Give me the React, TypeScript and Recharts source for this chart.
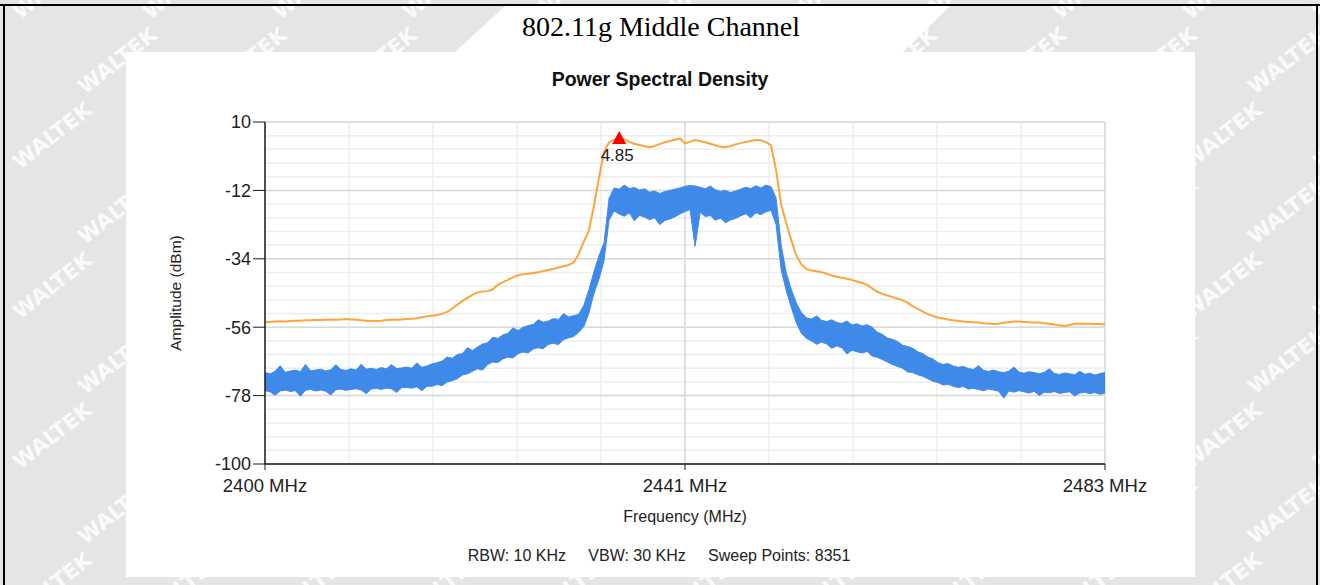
import React from "react";
import {
  ComposedChart,
  Area,
  Line,
  XAxis,
  YAxis,
  CartesianGrid,
  ReferenceDot,
} from "recharts";

// sweep grid of the analyser trace (MHz)
const FREQ_START = 2400;
const FREQ_STEP = 0.5;

// blue trace (noisy PSD) drawn as its upper / lower envelope, dBm
const blueHigh = [
  -70.6, -71.0, -70.2, -68.4, -70.5, -70.1, -69.8, -70.3, -68.0, -70.0,
  -69.8, -69.5, -70.1, -69.7, -68.1, -69.6, -69.9, -69.4, -69.8, -67.9,
  -69.5, -69.2, -69.6, -69.0, -69.4, -68.0, -69.3, -69.1, -68.8, -69.2,
  -67.5, -68.9, -68.5, -67.8, -67.4, -66.9, -65.6, -66.0, -64.8, -64.5,
  -62.6, -63.5, -62.4, -61.4, -61.0, -59.2, -59.6, -58.5, -58.0, -56.2,
  -57.1, -56.0, -55.5, -55.1, -53.6, -54.4, -54.0, -53.2, -53.5, -51.6,
  -52.7, -52.3, -51.8, -49.0, -44.0, -38.2, -33.0, -28.8, -14.5, -11.2,
  -11.6, -10.3, -11.4, -11.1, -11.9, -11.5, -12.6, -12.2, -13.0, -12.4,
  -12.0, -11.6, -11.2, -10.7, -10.4, -10.6, -11.0, -11.5, -10.6, -11.8,
  -12.3, -12.0, -12.7, -12.2, -11.6, -11.0, -11.4, -10.5, -11.2, -10.3,
  -10.8, -14.5, -29.5, -38.5, -43.8, -48.2, -51.3, -53.0, -53.4, -52.4,
  -53.8, -54.2, -53.6, -54.5, -54.8, -54.0, -55.3, -54.9, -55.6, -55.2,
  -56.0, -57.6, -58.3, -59.5, -59.9, -60.6, -61.8, -62.2, -62.8, -63.9,
  -64.5, -65.6, -66.2, -67.4, -68.0, -67.7, -68.5, -68.9, -68.6, -69.3,
  -69.6, -68.4, -69.9, -70.2, -69.8, -70.3, -70.6, -70.1, -68.8, -70.4,
  -70.8, -70.3, -70.6, -71.0, -70.5, -69.4, -70.9, -71.2, -70.7, -71.0,
  -71.3, -70.2, -71.1, -70.8, -71.4, -70.9, -70.6,
];

const blueLow = [
  -76.4, -76.8, -77.9, -76.5, -76.2, -76.7, -76.4, -78.2, -76.3, -76.0,
  -76.5, -76.2, -76.6, -77.8, -76.1, -75.9, -76.3, -76.0, -75.8, -76.2,
  -77.4, -75.9, -75.7, -76.0, -75.6, -75.8, -77.0, -75.5, -75.4, -75.6,
  -75.2, -76.4, -75.0, -75.0, -74.4, -74.8, -73.6, -73.2, -72.6, -71.4,
  -71.0, -70.2, -69.4, -69.8, -68.0, -67.2, -67.4, -66.2, -65.6, -65.9,
  -64.5, -64.0, -64.3, -63.0, -62.6, -62.9, -61.5, -61.2, -61.6, -60.0,
  -59.4, -59.0, -57.6, -55.8, -51.5, -45.2, -40.5, -34.6, -21.5, -18.6,
  -19.6, -20.3, -19.2, -21.8, -20.0, -20.6, -21.4, -20.8, -23.0, -21.7,
  -21.2, -20.5, -19.6, -18.8, -18.2, -30.0, -19.0, -20.4, -20.1, -21.6,
  -20.9, -22.4, -21.5, -21.0, -20.2, -19.5, -20.8, -19.2, -19.8, -18.9,
  -18.4, -23.0, -37.5, -44.2, -49.6, -54.6, -58.0, -59.6, -60.4, -61.5,
  -60.8, -61.4, -62.8, -62.0, -62.6, -64.6, -63.4, -63.9, -64.3, -63.8,
  -65.3, -65.7, -66.4, -67.2, -68.0, -68.6, -69.2, -70.4, -70.6, -71.3,
  -71.8, -72.6, -73.4, -73.8, -74.6, -74.4, -75.0, -75.4, -75.1, -75.9,
  -75.7, -76.0, -76.4, -75.9, -76.2, -76.6, -78.8, -76.5, -76.9, -76.4,
  -76.8, -77.2, -76.6, -78.0, -76.9, -77.1, -76.7, -77.3, -77.0, -76.8,
  -78.1, -77.2, -76.9, -77.4, -77.0, -77.6, -77.2,
];

// orange trace (max hold), dBm
const orangeTrace = [
  -54.4, -54.3, -54.2, -54.1, -54.2, -54.0, -53.9, -53.9, -53.8, -53.8,
  -53.7, -53.7, -53.6, -53.5, -53.6, -53.5, -53.4, -53.5, -53.6, -53.8,
  -53.9, -54.0, -54.0, -53.9, -53.7, -53.6, -53.6, -53.5, -53.4, -53.3,
  -53.1, -52.8, -52.5, -52.3, -52.1, -51.7, -51.1, -50.0, -48.8, -47.6,
  -46.6, -45.6, -44.8, -44.5, -44.4, -43.8, -42.4, -41.5, -40.8, -40.0,
  -39.3, -39.0, -38.8, -38.6, -38.3, -37.9, -37.6, -37.2, -36.8, -36.4,
  -36.0, -35.2, -32.5, -28.5, -25.0, -17.0, -8.0, 0.5, 3.5, 4.3,
  4.85, 4.4, 3.6, 3.0, 2.6, 2.2, 1.9, 2.3, 2.9, 3.5,
  3.9, 4.3, 4.7, 3.1, 3.6, 4.2, 3.9, 3.5, 3.0, 2.5,
  2.0, 1.9, 2.3, 2.8, 3.2, 3.6, 3.9, 4.2, 4.1, 3.5,
  2.5, -5.5, -16.5, -22.5, -28.0, -33.0, -35.8, -37.3, -37.8, -38.0,
  -38.3, -38.8, -39.4, -39.8, -40.1, -40.4, -40.8, -41.3, -41.8, -42.4,
  -43.5, -44.6, -45.3, -45.8, -46.3, -46.8, -47.3, -48.2, -49.2, -50.1,
  -51.0, -51.8, -52.4, -52.9, -53.2, -53.5, -53.8, -54.0, -54.2, -54.3,
  -54.4, -54.5, -54.7, -54.8, -55.0, -54.9, -54.6, -54.4, -54.2, -54.2,
  -54.3, -54.4, -54.5, -54.5, -54.7, -54.9, -55.1, -55.4, -55.6, -55.3,
  -54.9, -54.8, -54.9, -54.9, -55.0, -55.0, -55.1,
];

const yTicks = [10, -12, -34, -56, -78, -100];
const xTicks = [2400, 2441.5, 2483];
const xTickLabels = ["2400 MHz", "2441 MHz", "2483 MHz"];
const peakFreq = 2435;
const peakLevel = 4.85;

const tableData = orangeTrace.map((v, i) => ({
  f: FREQ_START + i * FREQ_STEP,
  orange: v,
  band: [blueLow[i], blueHigh[i]],
}));

// minor grid: 5 steps between y ticks, 10 steps across the span
const minorY: number[] = [];
for (let k = 0; k <= 25; k++) minorY.push(-100 + k * 4.4);
const minorX: number[] = [];
for (let k = 0; k <= 10; k++) minorX.push(2400 + k * 8.3);

const SANS = "'Liberation Sans', Arial, sans-serif";

const PeakMarker = (props: any) => {
  const { cx, cy } = props;
  return (
    <g>
      <path d={`M${cx},${cy - 7} L${cx + 7},${cy + 6} L${cx - 7},${cy + 6} Z`} fill="#ff0000" />
      <text x={cx - 2} y={cy + 23} textAnchor="middle" fontSize={17} fontFamily={SANS} fill="#222">
        {peakLevel.toFixed(2)}
      </text>
    </g>
  );
};

// background stamp lattice (the page's watermark)
const watermarks: Array<[number, number]> = [];
for (let r = 0; r < 9; r++) {
  for (let c = 0; c < 11; c++) {
    watermarks.push([20 + c * 130 + (r % 2) * 65, 20 + r * 75]);
  }
}

export default function App() {
  return (
    <div
      style={{
        position: "absolute",
        left: 0,
        top: 0,
        width: 1320,
        height: 585,
        overflow: "hidden",
        background: "#e5e5e5",
      }}
    >
      <svg width={1320} height={585} style={{ position: "absolute", left: 0, top: 0 }}>
        <polygon points="505,6 950,6 903,52 455,52" fill="#ffffff" />
        {watermarks.map(([x, y], i) => (
          <text
            key={i}
            x={x}
            y={y}
            transform={`rotate(-38 ${x} ${y})`}
            fontSize={21}
            fontWeight="bold"
            fontFamily="'DejaVu Sans', sans-serif"
            fill="#ffffff"
            fillOpacity={0.85}
          >
            WALTEK
          </text>
        ))}
      </svg>

      {/* table frame */}
      <div style={{ position: "absolute", left: 0, top: 4, width: 1320, height: 2, background: "#000" }} />
      <div style={{ position: "absolute", left: 3, top: 4, width: 2, height: 600, background: "#000" }} />
      <div style={{ position: "absolute", left: 1316, top: 4, width: 2, height: 600, background: "#000" }} />

      {/* white chart panel */}
      <div style={{ position: "absolute", left: 126, top: 52, width: 1069, height: 525, background: "#fff" }} />

      <div style={{ position: "absolute", left: 0, top: 0 }}>
        <ComposedChart
          width={1320}
          height={585}
          data={tableData}
          margin={{ top: 122, right: 215, bottom: 81, left: 205 }}
        >
          <CartesianGrid
            horizontalValues={minorY}
            verticalValues={minorX}
            stroke="#eeeeee"
            strokeWidth={1.5}
            fill="none"
          />
          <CartesianGrid
            horizontalValues={yTicks}
            verticalValues={[2441.5, 2483]}
            stroke="#d9d9d9"
            strokeWidth={1.5}
            fill="none"
          />
          <XAxis
            dataKey="f"
            type="number"
            domain={[2400, 2483]}
            ticks={xTicks}
            tickFormatter={(v: number) => xTickLabels[xTicks.indexOf(v)]}
            interval={0}
            height={40}
            axisLine={{ stroke: "#1a1a1a", strokeWidth: 1.5 }}
            tickLine={{ stroke: "#1a1a1a" }}
            tickSize={6}
            tickMargin={9}
            tick={{ fontSize: 18.5, fill: "#222", fontFamily: SANS }}
          />
          <YAxis
            type="number"
            domain={[-100, 10]}
            ticks={yTicks}
            interval={0}
            width={60}
            axisLine={{ stroke: "#1a1a1a", strokeWidth: 1.5 }}
            tickLine={{ stroke: "#1a1a1a" }}
            tickSize={12}
            tickMargin={2}
            tick={{ fontSize: 18, fill: "#222", fontFamily: SANS }}
          />
          <Area
            dataKey="band"
            type="linear"
            stroke="#3f8ae8"
            strokeWidth={1}
            fill="#3f8ae8"
            fillOpacity={1}
            dot={false}
            activeDot={false}
            isAnimationActive={false}
          />
          <Line
            dataKey="orange"
            type="linear"
            stroke="#fba53a"
            strokeWidth={2}
            dot={false}
            activeDot={false}
            isAnimationActive={false}
          />
          <ReferenceDot x={peakFreq} y={peakLevel} shape={PeakMarker} />
        </ComposedChart>
      </div>

      {/* titles and captions */}
      <svg width={1320} height={585} style={{ position: "absolute", left: 0, top: 0, pointerEvents: "none" }}>
        <text x={661} y={36} textAnchor="middle" fontSize={28} fontFamily="'Liberation Serif', 'Times New Roman', serif" fill="#000">
          802.11g Middle Channel
        </text>
        <text x={660} y={86} textAnchor="middle" fontSize={19.5} fontWeight="bold" fontFamily={SANS} fill="#111">
          Power Spectral Density
        </text>
        <text
          transform="translate(181,293) rotate(-90)"
          textAnchor="middle"
          fontSize={15.5}
          fontFamily={SANS}
          fill="#222"
        >
          Amplitude (dBm)
        </text>
        <text x={685} y={522} textAnchor="middle" fontSize={16} fontFamily={SANS} fill="#222">
          Frequency (MHz)
        </text>
        <text x={659} y={561} textAnchor="middle" fontSize={16} fontFamily={SANS} fill="#222" xmlSpace="preserve">
          {"RBW: 10 KHz     VBW: 30 KHz     Sweep Points: 8351"}
        </text>
      </svg>
    </div>
  );
}
